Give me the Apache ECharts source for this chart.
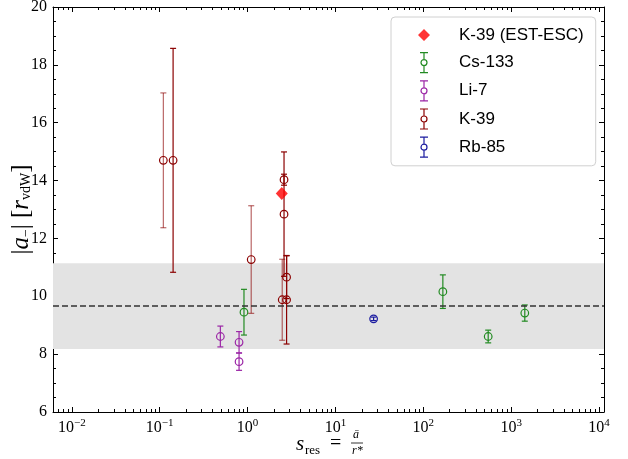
<!DOCTYPE html>
<html>
<head>
<meta charset="utf-8">
<script src="https://cdn.jsdelivr.net/npm/echarts@6/dist/echarts.min.js"></script>
<style>
  html, body { margin: 0; padding: 0; background: #fff; }
  #chart { width: 628px; height: 459px; }
</style>
</head>
<body>
<div id="chart"></div>
<script>
// axis ranges
const xRange = [0.0061, 11400];
const yRange = [6, 20];
const yStep = 2;

// shaded band and mean line
const bandRange = [8.18, 11.14];
const meanValue = 9.66;

// [s_res, |a-|, error]
const estEsc = [[2.45, 13.55]];
const cs133 = [[0.91, 9.45, 0.79], [167, 10.16, 0.58], [548, 8.61, 0.22], [1430, 9.42, 0.28]];
const li7 = [[0.49, 8.61, 0.36], [0.80, 8.41, 0.37], [0.80, 7.74, 0.30]];
const k39 = [[0.142, 14.70, 3.87], [2.60, 14.03, 0.19], [2.60, 12.84, 2.15], [2.78, 9.88, 1.53], [2.78, 10.66, 0.74]];
const k39Alt = [[0.110, 14.70, 2.33], [1.10, 11.27, 1.86], [2.48, 9.88, 1.40]];
const rb85 = [[27.2, 9.22, 0.06]];

const legendNames = ['K-39 (EST-ESC)', 'Cs-133', 'Li-7', 'K-39', 'Rb-85'];

const C_CS = '#228b22';
const C_LI = '#9b26a6';
const C_K = '#8b0000';
const C_RB = '#1c1ca0';

const serif = '"Liberation Serif", "DejaVu Serif", serif';
const sans = '"Liberation Sans", Arial, sans-serif';

// errorbar + open circle
function errorBars(color, barAlpha) {
  return function (params, api) {
    const x = api.value(0), y = api.value(1), e = api.value(2);
    const c = api.coord([x, y]);
    const t = api.coord([x, y + e]);
    const b = api.coord([x, y - e]);
    const bar = { stroke: color, lineWidth: 1.2, opacity: barAlpha };
    return {
      type: 'group',
      children: [
        { type: 'line', shape: { x1: c[0], y1: t[1], x2: c[0], y2: b[1] }, style: bar },
        { type: 'line', shape: { x1: c[0] - 3, y1: t[1], x2: c[0] + 3, y2: t[1] }, style: bar },
        { type: 'line', shape: { x1: c[0] - 3, y1: b[1], x2: c[0] + 3, y2: b[1] }, style: bar },
        { type: 'circle', shape: { cx: c[0], cy: c[1], r: 3.8 },
          style: { fill: 'none', stroke: color, lineWidth: 1.2 } }
      ]
    };
  };
}

function ebSeries(name, data, color, alpha) {
  return {
    name: name,
    type: 'custom',
    data: data,
    encode: { x: 0, y: 1 },
    itemStyle: { color: color },
    renderItem: errorBars(color, alpha),
    z: 3
  };
}

const ebIcon = 'path://M0,0 L8,0 M4,0 L4,7 M4,13 L4,20 M0,20 L8,20 M4,7 A3,3 0 1 1 4,13 A3,3 0 1 1 4,7';
const diaIcon = 'path://M6,0 L6,0 Z M0,10 L6,4 L12,10 L6,16 Z M6,20 L6,20 Z';

function ebLegend(name, color) {
  return { name: name, icon: ebIcon,
    itemStyle: { color: 'transparent', borderColor: color, borderWidth: 1.2 } };
}

function isPow10(v) {
  const l = Math.log10(v);
  return Math.abs(l - Math.round(l)) < 1e-6;
}

const chart = echarts.init(document.getElementById('chart'));

const axisLine = { show: true, lineStyle: { color: '#000', width: 1 } };
const tick = { show: true, inside: true, length: 5, lineStyle: { color: '#000' } };
const minorY = { show: true, splitNumber: 4, length: 3, lineStyle: { color: '#000' } };
const minorX = { show: true, splitNumber: 9, length: 3, lineStyle: { color: '#000' } };

const option = {
  animation: false,
  backgroundColor: '#fff',
  grid: { left: 53, right: 24, top: 7, bottom: 47, containLabel: false, outerBoundsMode: 'none' },
  xAxis: [{
    type: 'log', logBase: 10, min: xRange[0], max: xRange[1],
    axisLine: axisLine, axisTick: tick, minorTick: minorX,
    splitLine: { show: false }, minorSplitLine: { show: false },
    axisLabel: {
      margin: 6, color: '#000',
      formatter: function (v) {
        if (!isPow10(v)) return '';
        const e = Math.round(Math.log10(v));
        return '{b|10}{e|' + (e < 0 ? '\u2212' + (-e) : e) + '}';
      },
      rich: {
        b: { fontFamily: serif, fontSize: 16, color: '#000' },
        e: { fontFamily: serif, fontSize: 11, color: '#000', padding: [0, 0, 8, 0] }
      }
    }
  }, {
    type: 'log', logBase: 10, min: xRange[0], max: xRange[1], position: 'top',
    axisLine: axisLine, axisTick: tick, minorTick: minorX,
    axisLabel: { show: false }, splitLine: { show: false }
  }],
  yAxis: [{
    type: 'value', min: yRange[0], max: yRange[1], interval: yStep,
    axisLine: axisLine, axisTick: tick, minorTick: minorY,
    splitLine: { show: false },
    axisLabel: { color: '#000', fontFamily: serif, fontSize: 16, margin: 6 },
    name: '|{i|a}{s|\u2212}| [{i|r}{s|vdW}]',
    nameLocation: 'middle', nameRotate: 90, nameGap: 19, nameMoveOverlap: false,
    nameTextStyle: {
      fontFamily: serif, fontSize: 25, color: '#000',
      rich: {
        i: { fontFamily: serif, fontSize: 25, fontStyle: 'italic', color: '#000' },
        s: { fontFamily: serif, fontSize: 14, color: '#000', padding: [9, 0, 0, 0] }
      }
    }
  }, {
    type: 'value', min: yRange[0], max: yRange[1], interval: yStep, position: 'right',
    axisLine: axisLine, axisTick: tick, minorTick: minorY,
    axisLabel: { show: false }, splitLine: { show: false }
  }],
  legend: {
    orient: 'vertical', left: 391, top: 17,
    padding: [8, 12, 8, 27],
    itemWidth: 12, itemHeight: 20, itemGap: 7,
    backgroundColor: '#fff', borderColor: '#d0d0d0', borderWidth: 1, borderRadius: 4,
    textStyle: { fontFamily: sans, fontSize: 17, color: '#000', padding: [0, 0, 0, 24] },
    data: [
      { name: legendNames[0], icon: diaIcon, itemStyle: { color: '#ff0000', borderWidth: 0 } },
      ebLegend(legendNames[1], C_CS),
      ebLegend(legendNames[2], C_LI),
      ebLegend(legendNames[3], C_K),
      ebLegend(legendNames[4], C_RB)
    ]
  },
  graphic: [{
    type: 'group', left: 296, top: 429,
    children: [
      { type: 'text', x: 0, y: 4, style: { text: 's', font: 'italic 21px ' + serif, fill: '#000' } },
      { type: 'text', x: 9, y: 14, style: { text: 'res', font: '13px ' + serif, fill: '#000' } },
      { type: 'text', x: 34, y: 4, style: { text: '=', font: '20px ' + serif, fill: '#000' } },
      { type: 'text', x: 57, y: -1, style: { text: '\u0101', font: 'italic 12px ' + serif, fill: '#000' } },
      { type: 'line', shape: { x1: 55, y1: 13, x2: 67, y2: 13 }, style: { stroke: '#000', lineWidth: 0.8 } },
      { type: 'text', x: 56, y: 15, style: { text: 'r*', font: 'italic 12px ' + serif, fill: '#000' } }
    ]
  }],
  series: [
    {
      name: 'band', type: 'line', data: [], z: 1, silent: true,
      markArea: {
        silent: true,
        itemStyle: { color: '#e3e3e3' },
        data: [[{ yAxis: bandRange[0] }, { yAxis: bandRange[1] }]]
      },
      markLine: {
        silent: true, symbol: 'none', label: { show: false },
        lineStyle: { color: '#333', type: [6, 3], width: 1.5 },
        data: [{ yAxis: meanValue }]
      }
    },
    ebSeries('Cs-133', cs133, C_CS, 1),
    ebSeries('Li-7', li7, C_LI, 1),
    ebSeries('K-39', k39Alt, C_K, 0.6),
    ebSeries('K-39', k39, C_K, 1),
    ebSeries('Rb-85', rb85, C_RB, 1),
    {
      name: 'K-39 (EST-ESC)', type: 'scatter', data: estEsc, z: 4,
      symbol: 'diamond', symbolSize: [12, 13],
      itemStyle: { color: '#ff0000' }
    }
  ]
};

chart.setOption(option);
</script>
</body>
</html>
